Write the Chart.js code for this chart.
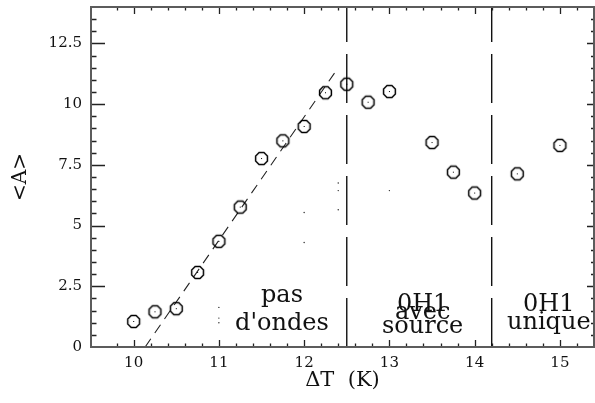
<!DOCTYPE html>
<html>
<head>
<meta charset="utf-8">
<script src="https://cdn.jsdelivr.net/npm/chart.js@4/dist/chart.umd.min.js"></script>
<style>
  html, body { margin: 0; padding: 0; background: #fff; }
  #c { display: block; }
</style>
</head>
<body>
<canvas id="c" width="595" height="403"></canvas>
<script>
    'use strict';

    // mesures <A> en fonction de deltaT
    var deltaT = [10, 10.25, 10.5, 10.75, 11, 11.25, 11.5, 11.75, 12, 12.25, 12.5, 12.75, 13, 13.5, 13.75, 14, 14.5, 15];
    var meanA = [1.05, 1.45, 1.58, 3.07, 4.35, 5.76, 7.76, 8.49, 9.08, 10.47, 10.82, 10.08, 10.52, 8.42, 7.2, 6.34, 7.13, 8.3];

    // petits points isoles
    var dotX = [11, 11, 11, 12, 12, 12.4, 12.4, 12.4, 13];
    var dotY = [1.63, 1.19, 1.0, 5.54, 4.3, 6.75, 6.44, 5.65, 6.44];

    // ajustement lineaire (tirets)
    var fitX = [10.135, 12.37];
    var fitY = [0, 11.35];

    // limites des regimes
    var boundaries = [12.5, 14.2];

    var xTickLabels = [10, 11, 12, 13, 14, 15];
    var yTickLabels = [0, 2.5, 5, 7.5, 10, 12.5];

    var regionText = [
        ['pas', "d'ondes"],
        ['0H1', 'avec', 'source'],
        ['0H1', 'unique']
    ];

    var FONT = '"DejaVu Serif", "Liberation Serif", serif';

    function isLabel(list, v) {
        for (var i = 0; i < list.length; i++) {
            if (Math.abs(list[i] - v) < 1e-6) {
                return true;
            }
        }
        return false;
    }

    function makeMarker() {
        var c = document.createElement('canvas');
        c.width = 17;
        c.height = 17;
        var g = c.getContext('2d');
        g.strokeStyle = '#000';
        g.lineWidth = 1.5;
        g.beginPath();
        for (var i = 0; i < 8; i++) {
            var a = Math.PI / 8 + i * Math.PI / 4;
            var px = 8.5 + 6.4 * Math.cos(a);
            var py = 8.5 + 6.4 * Math.sin(a);
            if (i === 0) {
                g.moveTo(px, py);
            } else {
                g.lineTo(px, py);
            }
        }
        g.closePath();
        g.stroke();
        g.fillStyle = '#000';
        g.fillRect(8, 8, 1, 1);
        return c;
    }

    function pts(xs, ys) {
        return xs.map(function(x, i) {
            return {x: x, y: ys[i]};
        });
    }

    // pas de marge automatique autour des echelles
    function noPadding(scale) {
        scale.paddingTop = 0;
        scale.paddingBottom = 0;
        scale.paddingLeft = 0;
        scale.paddingRight = 0;
    }

    var datasets = [{
        data: pts(deltaT, meanA),
        pointStyle: makeMarker(),
        pointRadius: 7,
        showLine: false
    }, {
        data: pts(dotX, dotY),
        pointStyle: 'circle',
        pointRadius: 0.7,
        backgroundColor: '#222',
        borderWidth: 0,
        showLine: false
    }, {
        data: pts(fitX, fitY),
        showLine: true,
        borderColor: '#222',
        borderWidth: 1.1,
        borderDash: [10, 7],
        pointRadius: 0
    }];

    boundaries.forEach(function(b) {
        datasets.push({
            data: [{x: b, y: 0}, {x: b, y: 14}],
            showLine: true,
            borderColor: '#111',
            borderWidth: 1.4,
            borderDash: [49, 12],
            pointRadius: 0
        });
    });

    // cadre + graduations vers l'interieur, textes des regimes
    var framePlugin = {
        id: 'frame',
        afterDatasetsDraw: function(chart) {
            var ctx = chart.ctx,
                area = chart.chartArea,
                xs = chart.scales.x,
                ys = chart.scales.y;

            ctx.save();
            ctx.strokeStyle = '#222';
            ctx.lineWidth = 1.3;
            ctx.beginPath();
            xs.ticks.forEach(function(t) {
                if (t.value <= xs.min + 1e-6 || t.value >= xs.max - 1e-6) {
                    return;
                }
                var px = Math.round(xs.getPixelForValue(t.value)) + 0.5;
                var len = isLabel(xTickLabels, t.value) ? 7 : 3.5;
                ctx.moveTo(px, area.bottom);
                ctx.lineTo(px, area.bottom - len);
                ctx.moveTo(px, area.top);
                ctx.lineTo(px, area.top + len);
            });
            ys.ticks.forEach(function(t) {
                if (t.value <= ys.min + 1e-6 || t.value >= ys.max - 1e-6) {
                    return;
                }
                var py = Math.round(ys.getPixelForValue(t.value)) + 0.5;
                var major = isLabel(yTickLabels, t.value);
                ctx.moveTo(area.left, py);
                ctx.lineTo(area.left + (major ? 14 : 5.5), py);
                ctx.moveTo(area.right, py);
                ctx.lineTo(area.right - (major ? 7 : 3), py);
            });
            ctx.stroke();

            ctx.strokeStyle = '#5c5c5c';
            ctx.lineWidth = 2;
            ctx.strokeRect(area.left, area.top, area.right - area.left, area.bottom - area.top);

            ctx.fillStyle = '#111';
            ctx.font = '24px ' + FONT;
            ctx.textAlign = 'center';
            ctx.textBaseline = 'alphabetic';
            var anchors = [
                {x: 11.74, y: [1.84, 0.71]},
                {x: 13.39, y: [1.47, 1.15, 0.58]},
                {x: 14.87, y: [1.47, 0.74]}
            ];
            regionText.forEach(function(lines, i) {
                lines.forEach(function(s, j) {
                    ctx.fillText(s, xs.getPixelForValue(anchors[i].x), ys.getPixelForValue(anchors[i].y[j]));
                });
            });
            ctx.restore();
        }
    };

    new Chart(document.getElementById('c'), {
        type: 'scatter',
        data: {datasets: datasets},
        plugins: [framePlugin],
        options: {
            responsive: false,
            devicePixelRatio: 1,
            animation: false,
            events: [],
            layout: {
                autoPadding: false,
                padding: {top: 7, right: 1, left: 0, bottom: 0}
            },
            plugins: {
                legend: {display: false},
                tooltip: {enabled: false}
            },
            scales: {
                x: {
                    type: 'linear',
                    min: 9.5,
                    max: 15.4,
                    afterFit: function(scale) {
                        scale.height = 56;
                        noPadding(scale);
                    },
                    grid: {display: false, drawTicks: false},
                    border: {display: false},
                    ticks: {
                        stepSize: 0.2,
                        autoSkip: false,
                        maxRotation: 0,
                        padding: 7,
                        color: '#111',
                        font: {family: FONT, size: 15},
                        callback: function(v) {
                            return isLabel(xTickLabels, v) ? String(Math.round(v)) : '';
                        }
                    },
                    title: {
                        display: true,
                        text: 'ΔT  (K)',
                        color: '#111',
                        font: {family: FONT, size: 21},
                        padding: {top: 0, bottom: 10}
                    }
                },
                y: {
                    type: 'linear',
                    min: 0,
                    max: 14,
                    afterFit: function(scale) {
                        scale.width = 91;
                        noPadding(scale);
                    },
                    grid: {display: false, drawTicks: false},
                    border: {display: false},
                    ticks: {
                        stepSize: 0.5,
                        autoSkip: false,
                        padding: 9,
                        color: '#111',
                        font: {family: FONT, size: 15},
                        callback: function(v) {
                            return isLabel(yTickLabels, v) ? String(v) : '';
                        }
                    },
                    title: {
                        display: true,
                        text: '<A>',
                        color: '#111',
                        font: {family: FONT, size: 20},
                        padding: {top: 9, bottom: 0}
                    }
                }
            }
        }
    });
</script>
</body>
</html>
